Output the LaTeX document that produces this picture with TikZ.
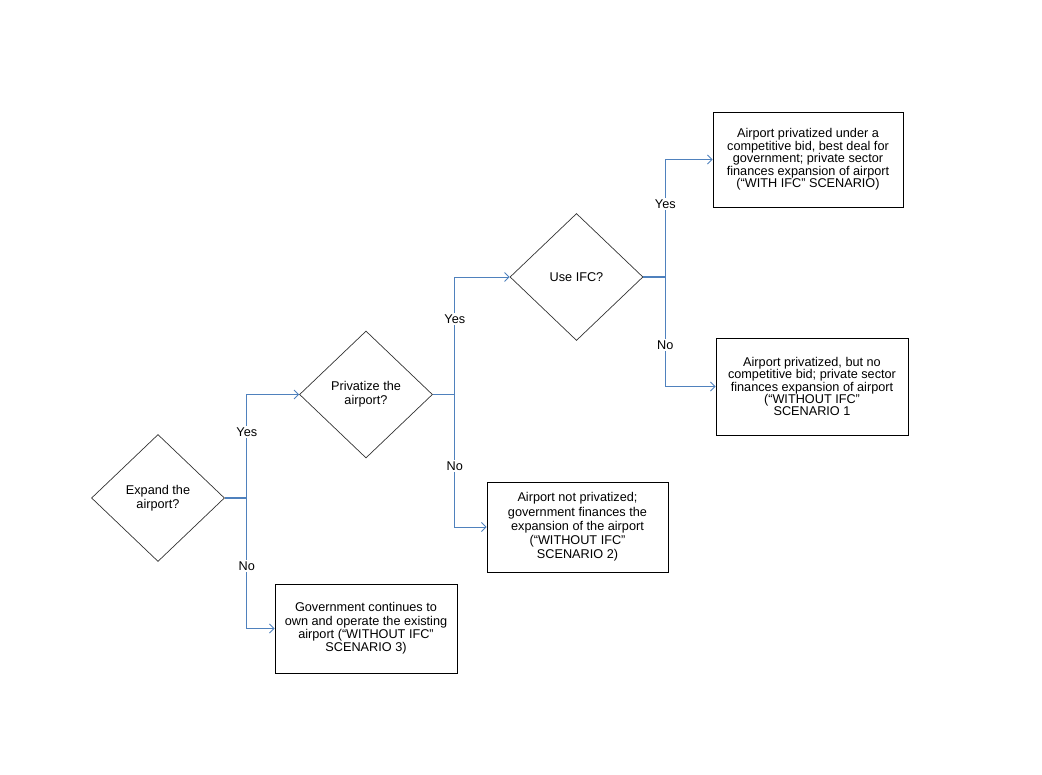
\documentclass[tikz,border=0pt]{standalone}
\usepackage{fontspec}
\setmainfont{Liberation Sans}
\usetikzlibrary{shapes.geometric,arrows.meta,positioning}
\definecolor{linkblue}{RGB}{79,129,189}
\tikzstyle{decision} = [diamond, draw=black!80, line width=0.7pt,
    minimum width=133pt, minimum height=127pt, inner sep=0pt, align=center]
\tikzstyle{outcome} = [rectangle, draw, line width=0.8pt, align=center, inner sep=2pt]
\tikzstyle{link} = [draw, linkblue, line width=0.9pt, -{Straight Barb[length=4.5pt,width=9pt]}]
\tikzstyle{stub} = [draw, linkblue, line width=1.6pt]
\tikzstyle{answer} = [fill=white, text=black, inner sep=1.5pt]

\begin{document}
\begin{tikzpicture}[x=1pt, y=-1pt, font=\fontsize{12.7}{14}\selectfont]
    \useasboundingbox (0,0) rectangle (1042,775);
    % Place nodes
    \node [decision, at={(158,498)}] (expand) {Expand the\\airport?};
    \node [decision, at={(366,394.5)}] (privatize) {Privatize the\\airport?};
    \node [decision, at={(576.5,277)}] (useifc) {Use IFC?};

    \node [outcome, minimum width=190pt, minimum height=95pt, at={(808,159.5)},
        font=\fontsize{12.7}{12.4}\selectfont] (withifc) {Airport privatized under a\\competitive bid, best deal for\\government; private sector\\finances expansion of airport\\(“WITH IFC” SCENARIO)};
    \node [outcome, minimum width=192pt, minimum height=97pt, at={(812,386.5)},
        font=\fontsize{12.7}{12.4}\selectfont] (nobid) {Airport privatized, but no\\competitive bid; private sector\\finances expansion of airport\\(“WITHOUT IFC”\\SCENARIO 1};
    \node [outcome, minimum width=181pt, minimum height=90pt, at={(577.5,527)},
        font=\fontsize{12.7}{14.2}\selectfont] (govfinance) {Airport not privatized;\\government finances the\\expansion of the airport\\(“WITHOUT IFC”\\SCENARIO 2)};
    \node [outcome, minimum width=182pt, minimum height=89pt, at={(366,628.5)},
        font=\fontsize{12.7}{13.4}\selectfont] (govowns) {Government continues to\\own and operate the existing\\airport (“WITHOUT IFC”\\SCENARIO 3)};

    % Branch points
    \coordinate [right=22pt of expand.east] (fork1);
    \coordinate [right=22pt of privatize.east] (fork2);
    \coordinate [right=22pt of useifc.east] (fork3);

    % Draw lines
    \path [stub] (expand.east) -- (fork1);
    \path [link] (fork1) |- node [answer, pos=0.32] {Yes} (privatize.west);
    \path [link] (fork1) |- node [answer, pos=0.26] {No} (govowns.west);

    \path [stub] (privatize.east) -- (fork2);
    \path [link] (fork2) |- node [answer, pos=0.32] {Yes} (useifc.west);
    \path [link] (fork2) |- node [answer, pos=0.27] {No} (govfinance.west);

    \path [stub] (useifc.east) -- (fork3);
    \path [link] (fork3) |- node [answer, pos=0.31] {Yes} (withifc.west);
    \path [link] (fork3) |- node [answer, pos=0.31] {No} (nobid.west);

\end{tikzpicture}
\end{document}
